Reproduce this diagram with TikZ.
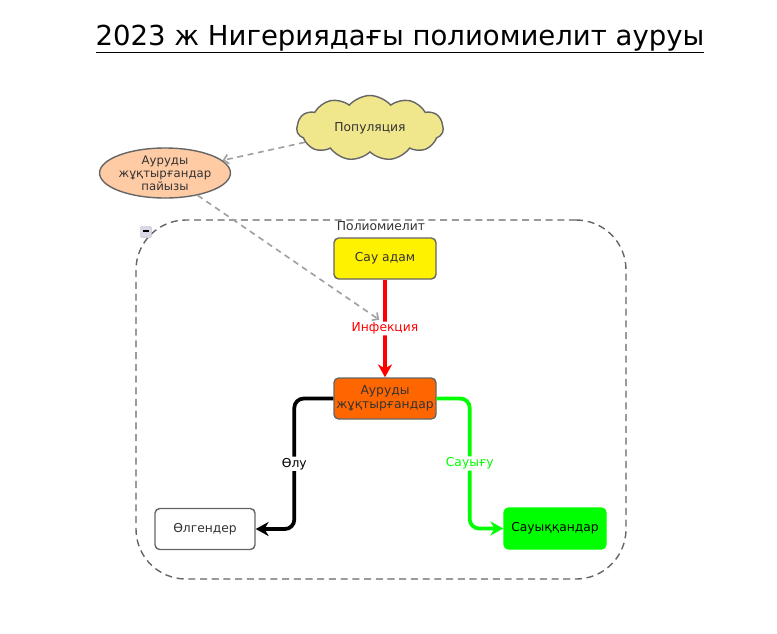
\documentclass[tikz,border=0pt]{standalone}
\usepackage{fontspec}
\setmainfont{DejaVu Sans}
\usetikzlibrary{arrows.meta,positioning,shapes.geometric,shapes.symbols}

\definecolor{boxgray}{HTML}{666666}
\definecolor{textgray}{HTML}{333333}
\definecolor{dashgray}{HTML}{A0A0A0}
\definecolor{khaki}{HTML}{F0E68C}
\definecolor{peach}{HTML}{FFCBA4}
\definecolor{infected}{HTML}{FF6600}
\definecolor{recgreen}{HTML}{00FF00}
\definecolor{iconbg}{HTML}{D8D8E6}

\begin{document}
\begin{tikzpicture}[
    x=0.03cm, y=-0.03cm,
    font=\fontsize{10.5}{12}\selectfont,
    state/.style={draw=boxgray, rounded corners=4pt, line width=1.2pt, align=center,
      text=textgray, minimum width=3.06cm, minimum height=1.23cm, inner sep=1pt},
    flow/.style={line width=3.2pt, rounded corners=8pt,
      -{Stealth[length=11pt,width=12pt,inset=3.5pt]}},
    infl/.style={dash pattern=on 5pt off 4pt, line width=1.4pt, draw=dashgray,
      -{Straight Barb[length=4pt,width=8pt]}},
    lbl/.style={fill=white, inner sep=1pt}
  ]
  \useasboundingbox (0,0) rectangle (777,633);

  % title
  \node[font=\fontsize{23.5}{28}\selectfont, text=black] (title) at (400,39)
    {\underline{2023 ж Нигериядағы полиомиелит ауруы}};

  % outer variables
  \node[cloud, cloud puffs=11, cloud puff arc=100, aspect=2.3, draw=boxgray, line width=1.2pt,
    fill=khaki, text=textgray, minimum width=4.4cm, minimum height=1.95cm] (pop) at (370,128)
    {Популяция};
  \node[ellipse, draw=boxgray, line width=1.2pt, fill=peach, text=textgray, align=center,
    inner sep=0pt, minimum width=3.7cm, minimum height=1.5cm,
    font=\fontsize{10}{11}\selectfont] (share) at (165,173) {Ауруды\\жұқтырғандар\\пайызы};

  % Polio module
  \node[draw=boxgray, dash pattern=on 6pt off 4pt, line width=1.2pt, rounded corners=1.5cm,
    minimum width=14.7cm, minimum height=10.77cm] (polio) at (381,399.5) {};
  \node[below=1pt of polio.north, inner sep=1pt, text=textgray] (poliolbl) {Полиомиелит};
  \node[fill=iconbg, draw=iconbg!80!black, line width=0.3pt, rounded corners=1pt,
    minimum size=0.33cm, inner sep=0pt] (collapse) at (146,232) {\rule[2pt]{5pt}{1.8pt}};

  \node[state, fill=yellow] (healthy) at (385,258.5) {Сау адам};
  \node[state, fill=infected, font=\fontsize{10.5}{11.5}\selectfont] (sick) at (385,398.5)
    {Ауруды\\жұқтырғандар};
  \node[state, fill=white, minimum width=3cm] (dead) at (205,529) {Өлгендер};
  \node[state, fill=recgreen, draw=recgreen, text=black] (recovered) at (555,528.5) {Сауыққандар};

  % flows
  \draw[flow, red] (healthy) -- node[lbl, text=red] (inflbl) {Инфекция} (sick);
  \draw[flow, black] (sick.west) -- ++(-39,0) |- node[pos=0.25, lbl] {Өлу} (dead.east);
  \draw[flow, recgreen] (sick.east) -- ++(33,0) |- node[pos=0.25, lbl] {Сауығу} (recovered.west);

  % influences
  \draw[infl] (pop) -- (share);
  \draw[infl] (share) -- ([xshift=-5]inflbl.north);
\end{tikzpicture}
\end{document}
